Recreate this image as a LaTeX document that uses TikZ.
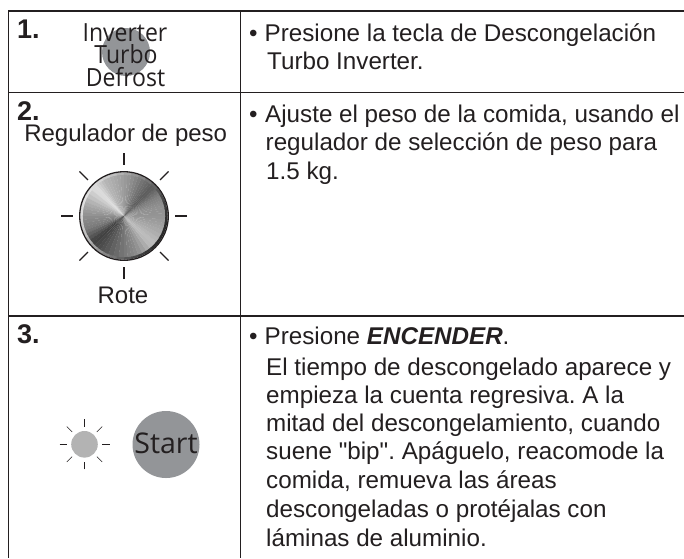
\documentclass[tikz,border=0pt]{standalone}
\usepackage{fontspec}
\usetikzlibrary{calc}
\setmainfont{Liberation Sans}
\newfontfamily\plainq{Liberation Sans}
\newfontfamily\hum[FakeStretch=0.92]{Open Sans}
\newfontfamily\humw{Open Sans}
\definecolor{ink}{HTML}{231F20}
\definecolor{btn}{HTML}{939598}
\definecolor{lamp}{HTML}{B3B3B3}
\frenchspacing
\tikzset{
 rule/.style={draw=ink,line width=1.1pt},
 num/.style={font=\fontsize{27}{30}\selectfont\bfseries,text=ink,anchor=base west,inner sep=0pt},
 txt/.style={font=\fontsize{24.2}{29}\selectfont,text=ink,anchor=base west,inner sep=0pt},
 lab/.style={font=\fontsize{24}{29}\selectfont,text=ink,anchor=base,inner sep=0pt},
 hm/.style={font=\hum\fontsize{25}{26}\selectfont,text=ink,anchor=base,inner sep=0pt},
 tick/.style={draw=ink,line width=1.1pt},
 stick/.style={draw=ink,line width=0.6pt},
}
\begin{document}
\begin{tikzpicture}[x=1pt,y=-1pt]
\useasboundingbox (0,0) rectangle (684,558);
\fill[white] (0,0) rectangle (684,558);
\draw[rule] (684,11) -- (8.3,11) -- (8.3,558);
\draw[rule] (8.3,92.7) -- (684,92.7);
\draw[rule] (8.3,316) -- (684,316);
\draw[rule] (240.7,11) -- (240.7,558);
\node[num] (n1) at (17,38) {1.};
\node[num] (n2) at (17,120) {2.};
\node[num] (n3) at (17,343) {3.};
% button 1
\fill[btn] (126,52) circle (24);
\node[hm] (i1) at (125,41) {Inverter};
\node[hm] (i2) at (126,63) {Turbo};
\node[hm] (i3) at (125.5,86) {Defrost};
% knob
\node[lab] (reg) at (125.7,141.7) {Regulador de peso};
\node[lab] (rote) at (123,303) {Rote};
\foreach \a in {0,45,...,315} \draw[tick] (124,216)++(\a:63) -- ++(\a:-12);
\begin{scope}[y=1pt]
\coordinate (kc) at (124,-216);
\foreach \aa/\bb/\ga/\gb in {0/15/58/57,15/30/57/50,30/45/50/36,45/60/36/44,60/80/44/57,80/100/57/65,100/120/65/72,120/135/72/88,135/160/88/68,160/180/68/56,180/200/56/48,200/220/48/25,220/240/25/33,240/270/33/47,270/290/47/55,290/315/55/75,315/340/75/65,340/360/65/58}{
  \foreach \t in {0,0.25,0.5,0.75}{
    \pgfmathsetmacro{\g}{\ga+(\gb-\ga)*(\t+0.125)}
    \pgfmathsetmacro{\s}{\aa+(\bb-\aa)*\t}
    \pgfmathsetmacro{\e}{\aa+(\bb-\aa)*(\t+0.25)+0.4}
    \fill[color={white!\g!black}] (kc) -- ($(kc)+(\s:42.5pt)$) arc[start angle=\s,end angle=\e,radius=42.5pt] -- cycle;
  }
}
\foreach \a in {0,10,...,350}{
  \pgfmathsetmacro{\g}{52+36*cos(\a-150)}
  \pgfmathsetmacro{\e}{\a+11}
  \draw[line width=2.4pt,color={white!\g!black}] ($(kc)+(\a:42.5pt)$) arc[start angle=\a,end angle=\e,radius=42.5pt];
}
\draw[ink,line width=1.3pt] (kc) circle (44.3pt);
\end{scope}
% start
\fill[lamp] (84.5,444.3) circle (13.3);
\foreach \a in {0,45,...,315} \draw[stick] (84.5,444.3)++(\a:25) -- ++(\a:-7.5);
\fill[btn] (166,444.5) circle (33.5);
\node[hm,font=\humw\fontsize{28.5}{30}\selectfont] (st) at (166,453) {Start};
% right column
\node[txt] (b1) at (249,41) {•};
\node[txt] (t1a) at (264.5,41) {Presione la tecla de Descongelación};
\node[txt] (t1b) at (267,69) {Turbo Inverter.};
\node[txt] (b2) at (249,122) {•};
\node[txt] (t2a) at (265,122) {Ajuste el peso de la comida, usando el};
\node[txt] (t2b) at (265.5,150) {regulador de selección de peso para};
\node[txt] (t2c) at (266,179) {1.5 kg.};
\node[txt] (b3) at (249,344) {•};
\node[txt] (t3a) at (264.5,344) {Presione \textbf{\textit{ENCENDER}}.};
\node[txt] (t3b) at (266,375) {El tiempo de descongelado aparece y};
\node[txt] (t3c) at (266,403) {empieza la cuenta regresiva. A la};
\node[txt] (t3d) at (266,431) {mitad del descongelamiento, cuando};
\node[txt,font=\plainq\fontsize{24.2}{29}\selectfont] (t3e) at (266,459) {suene "bip". Apáguelo, reacomode la};
\node[txt] (t3f) at (266,488) {comida, remueva las áreas};
\node[txt] (t3g) at (266,517) {descongeladas o protéjalas con};
\node[txt] (t3h) at (266,546) {láminas de aluminio.};
\end{tikzpicture}
\end{document}
